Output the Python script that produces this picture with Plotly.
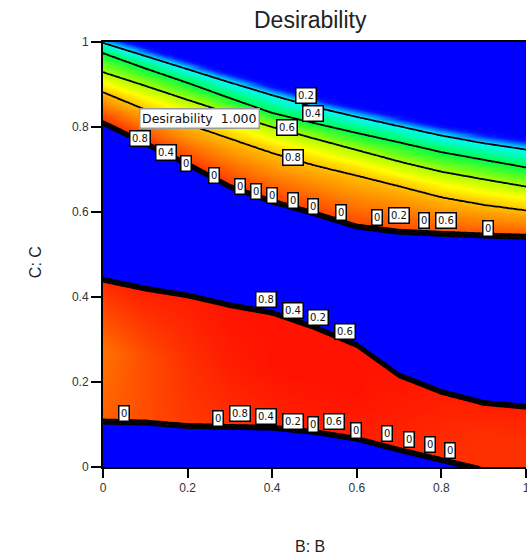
import numpy as np
import plotly.graph_objects as go

# ---- values ----
B_samples = [0.0, 0.1, 0.2, 0.3, 0.4, 0.5, 0.6, 0.7, 0.8, 0.9, 1.0]

# upper region: C position of each contour level at B_samples
C_up_zero = [1.024, 0.994, 0.963, 0.933, 0.904, 0.876, 0.853, 0.831, 0.809, 0.791, 0.777]
C_up_02 = [0.998, 0.967, 0.936, 0.905, 0.875, 0.847, 0.824, 0.802, 0.780, 0.762, 0.747]
C_up_04 = [0.974, 0.938, 0.904, 0.868, 0.833, 0.809, 0.786, 0.764, 0.741, 0.723, 0.705]
C_up_06 = [0.929, 0.897, 0.864, 0.832, 0.800, 0.773, 0.746, 0.719, 0.695, 0.677, 0.660]
C_up_08 = [0.882, 0.841, 0.807, 0.773, 0.739, 0.710, 0.686, 0.661, 0.635, 0.617, 0.604]
C_up_cliff = [0.809, 0.761, 0.712, 0.659, 0.624, 0.596, 0.565, 0.553, 0.548, 0.544, 0.541]
D_up_cliff = [0.96, 0.96, 0.95, 0.95, 0.94, 0.94, 0.93, 0.93, 0.92, 0.92, 0.92]

# lower band: upper and lower edge, desirability at top / middle / bottom
C_lo_top = [0.441, 0.420, 0.404, 0.381, 0.363, 0.329, 0.287, 0.216, 0.177, 0.151, 0.142]
C_lo_bot = [0.106, 0.104, 0.096, 0.094, 0.092, 0.082, 0.066, 0.040, 0.016, -0.007, -0.030]
D_lo_top = [0.96, 0.97, 0.97, 0.98, 0.98, 0.98, 0.98, 0.98, 0.97, 0.97, 0.97]
D_lo_mid = [0.88, 0.92, 0.95, 0.97, 0.98, 0.98, 0.98, 0.97, 0.96, 0.95, 0.95]
D_lo_bot = [0.90, 0.92, 0.94, 0.95, 0.96, 0.97, 0.97, 0.96, 0.95, 0.95, 0.95]

contour_levels = [0.2, 0.4, 0.6, 0.8]

# contour label boxes (B, C, text)
lab_B = [0.479, 0.497, 0.436, 0.450,
         0.087, 0.150, 0.197, 0.263, 0.324, 0.361, 0.399, 0.450, 0.497, 0.563, 0.648, 0.699, 0.760, 0.812, 0.910,
         0.385, 0.450, 0.509, 0.572,
         0.049, 0.272, 0.324, 0.385, 0.450, 0.497, 0.547, 0.598, 0.671, 0.723, 0.774, 0.821]
lab_C = [0.873, 0.831, 0.798, 0.729,
         0.772, 0.739, 0.713, 0.687, 0.661, 0.649, 0.638, 0.626, 0.612, 0.600, 0.586, 0.591, 0.579, 0.581, 0.562,
         0.393, 0.369, 0.351, 0.318,
         0.127, 0.115, 0.125, 0.120, 0.108, 0.101, 0.108, 0.087, 0.078, 0.064, 0.052, 0.040]
lab_T = ['0.2', '0.4', '0.6', '0.8',
         '0.8', '0.4', '0', '0', '0', '0', '0', '0', '0', '0', '0', '0.2', '0', '0.6', '0',
         '0.8', '0.4', '0.2', '0.6',
         '0', '0', '0.8', '0.4', '0.2', '0', '0.6', '0', '0', '0', '0', '0']

flag_B, flag_C, flag_text = 0.228, 0.819, 'Desirability\u00a0\u00a01.000'

x_ticks = [0, 0.2, 0.4, 0.6, 0.8, 1]
y_ticks = [0, 0.2, 0.4, 0.6, 0.8, 1]

# ---- build the surface grids the heatmap / contour traces need ----
Bg = np.linspace(0, 1, 201)
Cg = np.linspace(0, 1, 401)


def surface(ramp):
    Z = np.zeros((len(Cg), len(Bg)))
    for j, b in enumerate(Bg):
        f = lambda arr: float(np.interp(b, B_samples, arr))
        cl = f(C_up_cliff)
        kx = [cl - ramp / 2, cl + ramp / 2, f(C_up_08), f(C_up_06), f(C_up_04), f(C_up_02), f(C_up_zero)]
        kv = [0, f(D_up_cliff), 0.8, 0.6, 0.4, 0.2, 0]
        zu = np.interp(Cg, kx, kv, left=0, right=0)
        top, bot = f(C_lo_top), f(C_lo_bot)
        lx = [bot - ramp / 2, bot + ramp / 2, (top + bot) / 2, top - ramp / 2, top + ramp / 2]
        lv = [0, f(D_lo_bot), f(D_lo_mid), f(D_lo_top), 0]
        zl = np.interp(Cg, lx, lv, left=0, right=0)
        Z[:, j] = zu + zl
    return np.round(Z, 3)


Z_color = surface(0.001)   # sharp colour edges
Z_lines = surface(0.015)   # spreads the coincident levels into a thick band at the cliffs

cscale = [[0.0, 'rgb(0,0,255)'], [0.06, 'rgb(0,20,255)'], [0.2, 'rgb(0,250,255)'],
          [0.4, 'rgb(0,255,70)'], [0.6, 'rgb(170,255,0)'], [0.7, 'rgb(255,255,0)'],
          [0.8, 'rgb(255,190,0)'], [1.0, 'rgb(255,0,0)']]

fig = go.Figure()
fig.add_trace(go.Heatmap(x=Bg, y=Cg, z=Z_color, colorscale=cscale, zmin=0, zmax=1,
                         zsmooth='best', showscale=False, hoverinfo='skip'))
fig.add_trace(go.Contour(x=Bg, y=Cg, z=Z_lines, showscale=False, hoverinfo='skip',
                         contours=dict(start=min(contour_levels), end=max(contour_levels),
                                       size=0.2, coloring='none', showlabels=False),
                         line=dict(color='black', width=1.8)))

for b, c, t in zip(lab_B, lab_C, lab_T):
    fig.add_annotation(x=b, y=c, text=t, showarrow=False, xref='x', yref='y',
                       bgcolor='white', bordercolor='black', borderwidth=1.5, borderpad=1.5,
                       font=dict(family='DejaVu Sans', size=10, color='#111'))
fig.add_annotation(x=flag_B, y=flag_C, text=flag_text, showarrow=False, xref='x', yref='y',
                   bgcolor='white', bordercolor='#9a9a9a', borderwidth=1.5, borderpad=1.5,
                   font=dict(family='DejaVu Sans', size=12.5, color='#111'))

# titles
fig.add_annotation(x=0.49, y=1, xref='paper', yref='paper', yshift=22, yanchor='middle',
                   text='Desirability', showarrow=False,
                   font=dict(family='Arial', size=23, color='#222'))
fig.add_annotation(x=0.49, y=0, xref='paper', yref='paper', yshift=-79, yanchor='middle',
                   text='B: B', showarrow=False, font=dict(family='Arial', size=16, color='#222'))
fig.add_annotation(x=0, y=0.482, xref='paper', yref='paper', xshift=-68, xanchor='center',
                   text='C: C', showarrow=False, textangle=-90,
                   font=dict(family='Arial', size=16, color='#222'))

fig.update_xaxes(range=[0, 1], tickvals=x_ticks, ticktext=[str(v) for v in x_ticks],
                 ticks='outside', ticklen=9, tickwidth=1.5, tickcolor='black',
                 showline=True, linecolor='black', linewidth=2, mirror=True,
                 showgrid=False, zeroline=False,
                 tickfont=dict(family='Arial', size=12, color='#333'))
fig.update_yaxes(range=[0, 1], tickvals=y_ticks, ticktext=[str(v) for v in y_ticks],
                 ticks='outside', ticklen=10, tickwidth=1.5, tickcolor='black',
                 showline=True, linecolor='black', linewidth=2, mirror=False,
                 showgrid=False, zeroline=False,
                 tickfont=dict(family='Arial', size=12, color='#333'))
fig.update_layout(width=535, height=557, margin=dict(l=103, r=5, t=42, b=90),
                  plot_bgcolor='white', paper_bgcolor='white', showlegend=False)
fig.write_html('out.html', config={'displayModeBar': False},
               post_script="document.body.style.margin='0';document.body.style.overflow='hidden';")
